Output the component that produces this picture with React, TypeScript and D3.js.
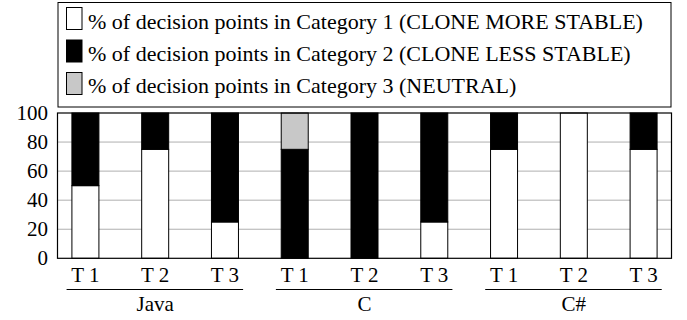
import React from "react";
import * as d3 from "d3";

const groups = ["Java", "C", "C#"];
const tasks = ["T 1", "T 2", "T 3"];
const cat1 = [50, 75, 25, 0, 0, 25, 75, 100, 75];
const cat2 = [50, 25, 75, 75, 100, 75, 25, 0, 25];
const cat3 = [0, 0, 0, 25, 0, 0, 0, 0, 0];
const seriesKeys = ["cat1", "cat2", "cat3"];
const seriesColors = ["#ffffff", "#000000", "#c8c8c8"];
const legendLabels = [
  "% of decision points in Category 1 (CLONE MORE STABLE)",
  "% of decision points in Category 2 (CLONE LESS STABLE)",
  "% of decision points in Category 3 (NEUTRAL)",
];
const yTicks = [0, 20, 40, 60, 80, 100];

const FONT = "Liberation Serif";

export default function App() {
  const rows = cat1.map((v, i) => ({ i, cat1: v, cat2: cat2[i], cat3: cat3[i] }));
  const stacked = d3.stack<any>().keys(seriesKeys)(rows);

  const x = d3.scaleLinear().domain([-0.4, 8.4]).range([57.5, 671.5]);
  const y = d3.scaleLinear().domain([0, 100]).range([258.3, 113]);
  const bw = 0.387;
  const barW = x(bw) - x(0);

  const left = x(-0.4);
  const right = x(8.4);
  const ts = { fontFamily: FONT } as React.CSSProperties;

  return (
    <svg width={687} height={320} style={{ position: "absolute", left: 0, top: 0, background: "#fff" }}>
      <rect x={0} y={0} width={687} height={320} fill="#fff" />
      {/* legend */}
      <rect x={58} y={2.5} width={613} height={104.5} fill="#fff" stroke="#000" strokeWidth={1} />
      {legendLabels.map((lab, k) => (
        <g key={k}>
          <rect
            x={66.5}
            y={7.5 + k * 32.5}
            width={15.5}
            height={22}
            fill={seriesColors[k]}
            stroke="#000"
            strokeWidth={1}
          />
          <text x={88} y={29 + k * 32} fontSize={22} fill="#000" style={ts}>
            {lab}
          </text>
        </g>
      ))}
      {/* grid */}
      {yTicks
        .filter((t) => t > 0 && t < 100)
        .map((t) => (
          <line key={t} x1={left} x2={right} y1={y(t)} y2={y(t)} stroke="#b0b0b0" strokeWidth={1} />
        ))}
      {/* bars */}
      {stacked.map((s, si) =>
        s.map((d, i) =>
          d[1] - d[0] > 0 ? (
            <rect
              key={`${si}-${i}`}
              x={x(i) - barW / 2}
              y={y(d[1])}
              width={barW}
              height={y(d[0]) - y(d[1])}
              fill={seriesColors[si]}
              stroke="#000"
              strokeWidth={1}
            />
          ) : null
        )
      )}
      {/* frame */}
      <rect x={left} y={y(100)} width={right - left} height={y(0) - y(100)} fill="none" stroke="#000" strokeWidth={1.2} />
      {/* y ticks */}
      {yTicks.map((t) => (
        <text key={t} x={48} y={y(t) + 7} fontSize={21} textAnchor="end" fill="#000" style={ts}>
          {t}
        </text>
      ))}
      {/* x labels */}
      {groups.map((g, gi) =>
        tasks.map((tk, ti) => {
          const i = gi * 3 + ti;
          return (
            <text key={`${gi}-${ti}`} x={x(i)} y={282} fontSize={21} textAnchor="middle" fill="#000" style={ts}>
              {tk}
            </text>
          );
        })
      )}
      {groups.map((g, gi) => {
        const a = gi * 3;
        const b = gi * 3 + 2;
        return (
          <g key={g}>
            <line x1={x(a - 0.27)} x2={x(b + 0.26)} y1={289.5} y2={289.5} stroke="#000" strokeWidth={1.2} />
            <text x={x(a + 1)} y={311} fontSize={21} textAnchor="middle" fill="#000" style={ts}>
              {g}
            </text>
          </g>
        );
      })}
    </svg>
  );
}
